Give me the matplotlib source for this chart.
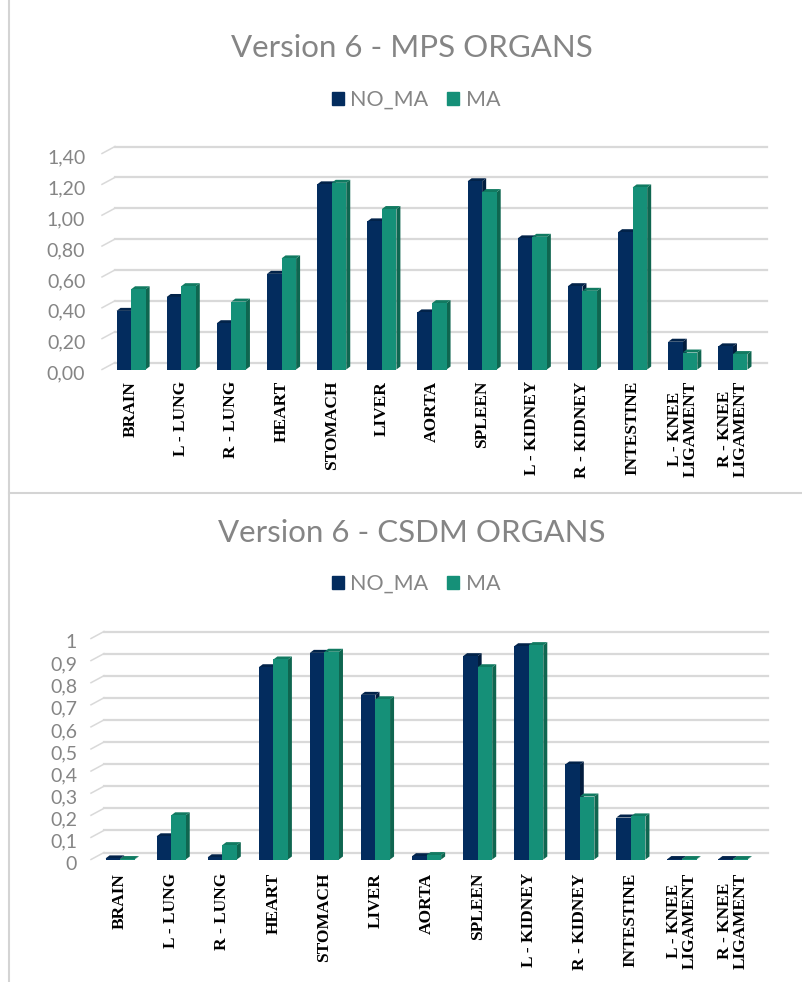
import matplotlib
matplotlib.use("Agg")
import matplotlib.pyplot as plt
from matplotlib.patches import Patch, Polygon
from matplotlib.transforms import Affine2D, IdentityTransform

W, H = 803, 982

organs = ["BRAIN", "L - LUNG", "R - LUNG", "HEART", "STOMACH", "LIVER", "AORTA", "SPLEEN",
          "L - KIDNEY", "R - KIDNEY", "INTESTINE", "L - KNEE\nLIGAMENT", "R - KNEE\nLIGAMENT"]

mps_no_ma = [0.38, 0.47, 0.30, 0.62, 1.20, 0.96, 0.37, 1.22, 0.85, 0.54, 0.89, 0.18, 0.15]
mps_ma = [0.52, 0.54, 0.44, 0.72, 1.21, 1.04, 0.43, 1.15, 0.86, 0.51, 1.18, 0.11, 0.10]
mps_ticks = [0, 0.2, 0.4, 0.6, 0.8, 1.0, 1.2, 1.4]
mps_labels = ["0,00", "0,20", "0,40", "0,60", "0,80", "1,00", "1,20", "1,40"]

csdm_no_ma = [0.005, 0.105, 0.01, 0.87, 0.935, 0.745, 0.015, 0.92, 0.965, 0.43, 0.19, 0.002, 0.002]
csdm_ma = [0.002, 0.20, 0.065, 0.905, 0.94, 0.725, 0.02, 0.87, 0.97, 0.285, 0.195, 0.002, 0.002]
csdm_ticks = [0, 0.1, 0.2, 0.3, 0.4, 0.5, 0.6, 0.7, 0.8, 0.9, 1]
csdm_labels = ["0", "0,1", "0,2", "0,3", "0,4", "0,5", "0,6", "0,7", "0,8", "0,9", "1"]

NAVY = ("#032c5e", "#02234a", "#021d3e")
TEAL = ("#159078", "#117a61", "#0f6650")
GRID = "#d9d9d9"
TEXT = "#858585"
TITLE_FONT = ["Lato", "DejaVu Sans"]

fig = plt.figure(figsize=(W / 100, H / 100), dpi=100, facecolor="white")


def add_box(left, right, bottom, top):
    # pixel box, y counted from the top of the image
    return fig.add_axes([left / W, 1 - bottom / H, (right - left) / W, (bottom - top) / H])


def bars_3d(ax, xs, vals, width, cols, depth, z):
    # front faces through ax.bar, top and side faces worked out in pixels
    dx, dy = depth
    rects = ax.bar(xs, vals, width=width, color=cols[0], linewidth=0, zorder=z)
    for r in rects:
        x0, x1 = r.get_x(), r.get_x() + r.get_width()
        v = r.get_height()
        (px0, py0), (px1, py1) = ax.transData.transform([(x0, 0), (x1, v)])
        side = [(px1, py0), (px1 + dx, py0 + dy), (px1 + dx, py1 + dy), (px1, py1)]
        top = [(px0, py1), (px0 + dx, py1 + dy), (px1 + dx, py1 + dy), (px1, py1)]
        ax.add_patch(Polygon(side, closed=True, transform=IdentityTransform(), fc=cols[2], ec="none",
                             zorder=z - 0.1, clip_on=False))
        ax.add_patch(Polygon(top, closed=True, transform=IdentityTransform(), fc=cols[1], ec="none",
                             zorder=z - 0.1, clip_on=False))


def chart(box, xlim, ymax, no_ma, ma, ticks, tick_labels, title, title_y, legend_y, bw, label_top, pad):
    ax = add_box(*box)
    ax.set_xlim(*xlim)
    ax.set_ylim(0, ymax)
    ax.patch.set_alpha(0)
    for s in ax.spines.values():
        s.set_visible(False)

    back = ax.transData + Affine2D().translate(13, 7)
    for t in ticks:
        ax.plot(xlim, [t, t], color=GRID, lw=1.6, transform=back, clip_on=False, zorder=1)
        p0 = ax.transData.transform((xlim[0], t))
        ax.plot([p0[0], p0[0] + 13], [p0[1], p0[1] + 7], color=GRID, lw=1.1,
                transform=IdentityTransform(), clip_on=False, zorder=1)

    xs = list(range(len(organs)))
    bars_3d(ax, [x - bw / 2 for x in xs], no_ma, bw, NAVY, (4, 3), 3)
    bars_3d(ax, [x + bw / 2 for x in xs], ma, bw, TEAL, (4, 3), 4)

    ax.set_yticks(ticks)
    ax.set_yticklabels(tick_labels, color=TEXT, fontsize=14, family=TITLE_FONT)
    ax.tick_params(axis="y", length=0, pad=pad)
    for lab in ax.get_yticklabels():
        lab.set_transform(lab.get_transform() + Affine2D().translate(0, -3))
    ax.set_xticks(xs)
    ax.set_xticklabels([])
    ax.tick_params(axis="x", length=0)
    for x, name in zip(xs, organs):
        px = ax.transData.transform((x, 0))[0]
        fig.text(px / W, 1 - label_top / H, name, rotation=90, ha="center", va="top", multialignment="center",
                 family="Liberation Serif", fontweight="bold", fontsize=12.5, color="black", linespacing=1.0)

    fig.text(412 / W, 1 - title_y / H, title, ha="center", va="center", fontsize=22.5, color=TEXT,
             family=TITLE_FONT)
    handles = [Patch(color=NAVY[0], label="NO_MA"), Patch(color=TEAL[0], label="MA")]
    fig.legend(handles=handles, loc="center", bbox_to_anchor=(416 / W, 1 - legend_y / H), ncols=2, frameon=False,
               prop={"family": TITLE_FONT, "size": 15.5}, labelcolor=TEXT,
               handlelength=0.55, handleheight=0.55, handletextpad=0.3, columnspacing=0.9)
    return ax


chart((102, 754, 369.5, 153.5), (-0.58, 12.42), 1.4, mps_no_ma, mps_ma, mps_ticks, mps_labels,
      "Version 6 - MPS ORGANS", 48, 100, 0.29, 381, 12)
chart((91, 755, 859.5, 638.5), (-0.57, 12.43), 1.0, csdm_no_ma, csdm_ma, csdm_ticks, csdm_labels,
      "Version 6 - CSDM ORGANS", 533, 584, 0.285, 873, 10)

# panel frame lines
fig.add_artist(plt.Line2D([9.5 / W, 9.5 / W], [0, 1], color="#d4d4d4", lw=1.5))
fig.add_artist(plt.Line2D([9.5 / W, 1], [1 - 493 / H, 1 - 493 / H], color="#d4d4d4", lw=1.5))

fig.savefig("out.png", dpi=100, facecolor="white")
